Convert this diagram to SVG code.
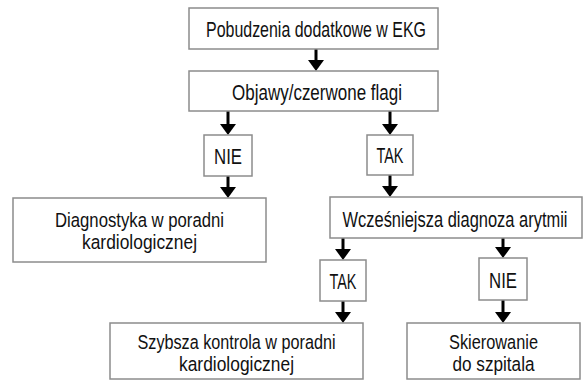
<svg xmlns="http://www.w3.org/2000/svg" width="588" height="385" viewBox="0 0 588 385">
<defs>
<style>
.box{fill:#fff;stroke:#8c8c8c;stroke-width:1.5}
.t{font-family:"Liberation Sans",Arial,sans-serif;font-size:22.5px;fill:#111;text-anchor:middle}
.m{font-size:20.5px}
.c{stroke:#000;stroke-width:3;fill:none}
.h{fill:#000}
</style>
</defs>
<g id="connectors">
<line class="c" x1="316" y1="49" x2="316" y2="60"/><path class="h" d="M308,60 L324,60 L316,71 Z"/>
<line class="c" x1="228" y1="111" x2="228" y2="124"/><path class="h" d="M220,124 L236,124 L228,135 Z"/>
<line class="c" x1="390" y1="111" x2="390" y2="124"/><path class="h" d="M382,124 L398,124 L390,135 Z"/>
<line class="c" x1="228" y1="176" x2="228" y2="187"/><path class="h" d="M220,187 L236,187 L228,198 Z"/>
<line class="c" x1="390" y1="175" x2="390" y2="186"/><path class="h" d="M382,186 L398,186 L390,197 Z"/>
<line class="c" x1="343" y1="238" x2="343" y2="249"/><path class="h" d="M335,249 L351,249 L343,260 Z"/>
<line class="c" x1="503" y1="238" x2="503" y2="247"/><path class="h" d="M495,247 L511,247 L503,258 Z"/>
<line class="c" x1="343" y1="301" x2="343" y2="312"/><path class="h" d="M335,312 L351,312 L343,323 Z"/>
<line class="c" x1="503" y1="300" x2="503" y2="312"/><path class="h" d="M495,312 L511,312 L503,323 Z"/>
</g>
<g id="n1"><rect class="box" x="189" y="8" width="249" height="41"/><text class="t" x="316" y="36.5" textLength="220" lengthAdjust="spacingAndGlyphs">Pobudzenia dodatkowe w EKG</text></g>
<g id="n2"><rect class="box" x="189" y="71" width="249" height="40"/><text class="t" x="317" y="99.5" textLength="170" lengthAdjust="spacingAndGlyphs">Objawy/czerwone flagi</text></g>
<g id="n3"><rect class="box" x="204" y="135" width="48" height="41"/><text class="t" x="228" y="163.5" textLength="28" lengthAdjust="spacingAndGlyphs">NIE</text></g>
<g id="n4"><rect class="box" x="367" y="135" width="46" height="40"/><text class="t" x="390" y="163" textLength="27" lengthAdjust="spacingAndGlyphs">TAK</text></g>
<g id="n5"><rect class="box" x="13" y="198" width="253" height="64"/><text class="t m" x="139.5" y="226.5" textLength="169" lengthAdjust="spacingAndGlyphs">Diagnostyka w poradni</text><text class="t m" x="139.5" y="248.5" textLength="115" lengthAdjust="spacingAndGlyphs">kardiologicznej</text></g>
<g id="n6"><rect class="box" x="330" y="197" width="252" height="41"/><text class="t" transform="translate(455,226.5) scale(0.75,1)" x="0" y="0" textLength="300" lengthAdjust="spacingAndGlyphs">Wcześniejsza diagnoza arytmii</text></g>
<g id="n7"><rect class="box" x="320" y="260" width="46" height="41"/><text class="t" x="343" y="288.5" textLength="27" lengthAdjust="spacingAndGlyphs">TAK</text></g>
<g id="n8"><rect class="box" x="479" y="258" width="48" height="42"/><text class="t" x="503" y="287.5" textLength="28" lengthAdjust="spacingAndGlyphs">NIE</text></g>
<g id="n9"><rect class="box" x="110" y="323" width="253" height="56"/><text class="t m" x="236.5" y="349" textLength="198" lengthAdjust="spacingAndGlyphs">Szybsza kontrola w poradni</text><text class="t m" x="236.5" y="371" textLength="115" lengthAdjust="spacingAndGlyphs">kardiologicznej</text></g>
<g id="n10"><rect class="box" x="407" y="323" width="173" height="56"/><text class="t m" x="493.5" y="349" textLength="89" lengthAdjust="spacingAndGlyphs">Skierowanie</text><text class="t m" x="493.5" y="371" textLength="82" lengthAdjust="spacingAndGlyphs">do szpitala</text></g>
</svg>
